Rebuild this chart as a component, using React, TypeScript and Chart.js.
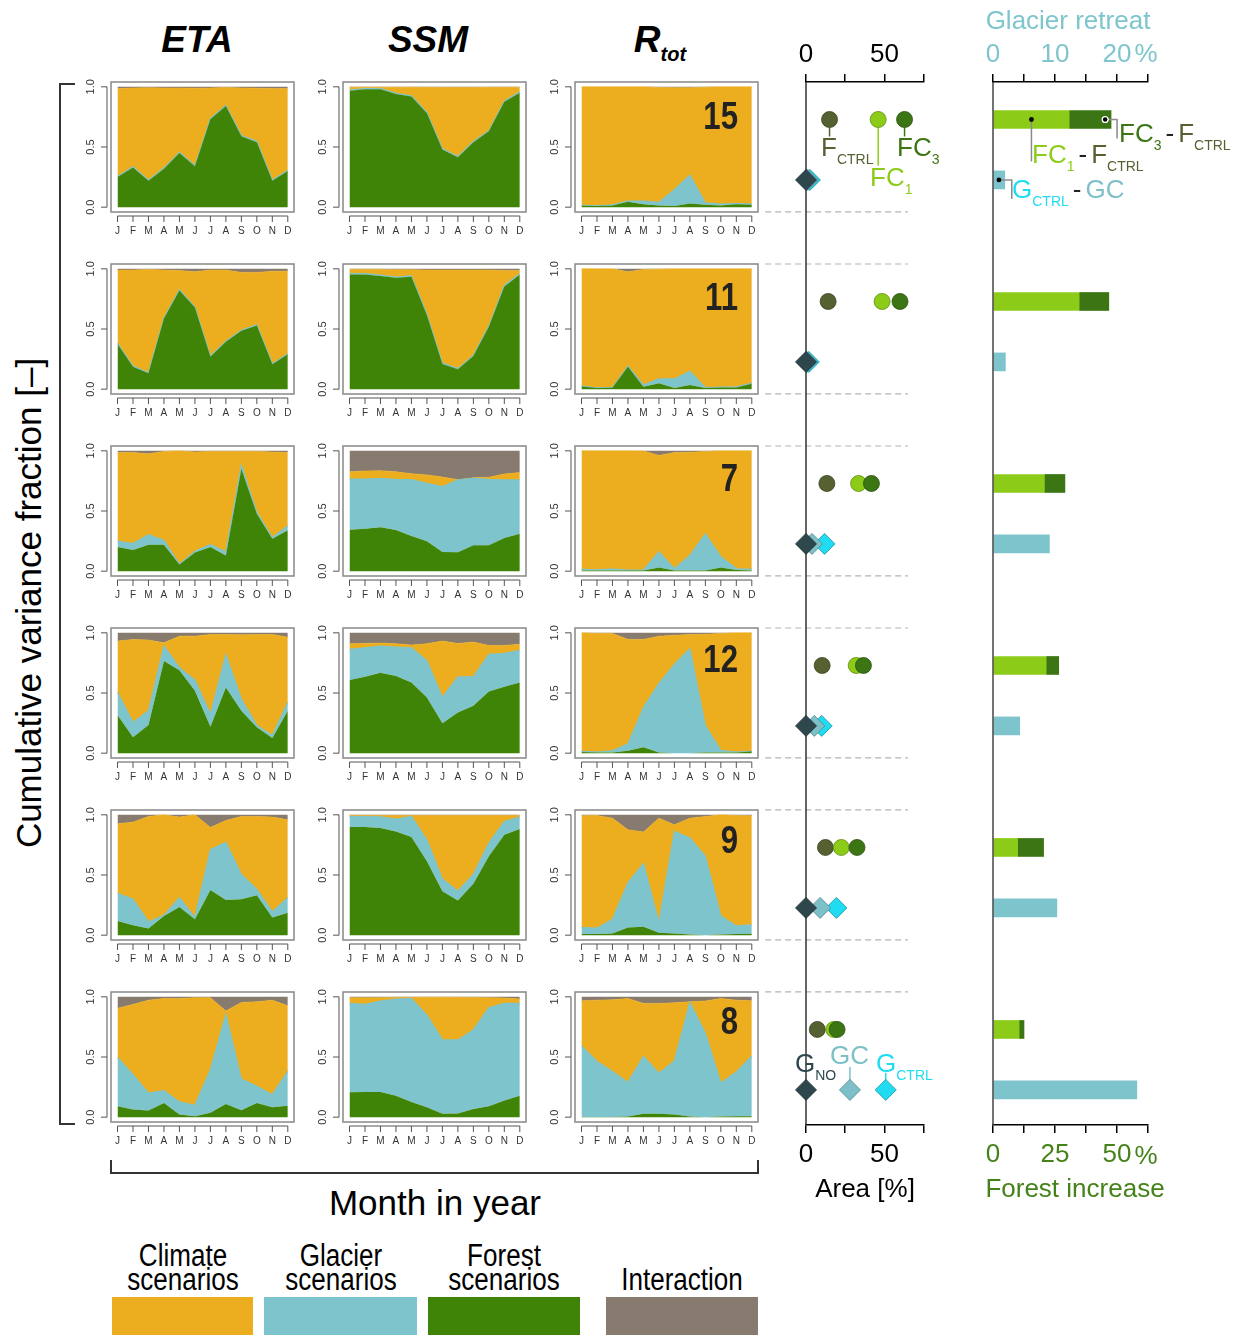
import React, { useEffect, useRef } from 'react';
import { Chart, registerables } from 'chart.js';
Chart.register(...registerables);

const FONT = 'Arial, "Liberation Sans", Helvetica, sans-serif';

const MONTHS = ['J', 'F', 'M', 'A', 'M', 'J', 'J', 'A', 'S', 'O', 'N', 'D'];
const CATCHMENTS = ['15', '11', '7', '12', '9', '8'];
const Y_TICKS = [0, 0.5, 1];
const Y_TICK_LABELS = ['0.0', '0.5', '1.0'];
// upper edge of the interaction layer = total variance
const ALL_SOURCES = [1, 1, 1, 1, 1, 1, 1, 1, 1, 1, 1, 1];

// cumulative upper edges of each layer (forest, + glacier, + climate)
const eta15Forest = [0.25, 0.33, 0.22, 0.32, 0.45, 0.34, 0.73, 0.84, 0.59, 0.54, 0.22, 0.30];
const eta15Glacier = [0.255, 0.335, 0.225, 0.325, 0.455, 0.345, 0.735, 0.845, 0.595, 0.545, 0.225, 0.305];
const eta15Climate = [0.985, 0.99, 0.992, 0.99, 0.99, 0.988, 0.99, 0.995, 0.99, 0.988, 0.985, 0.985];
const ssm15Forest = [0.967, 0.98, 0.98, 0.94, 0.92, 0.78, 0.48, 0.415, 0.54, 0.63, 0.875, 0.95];
const ssm15Glacier = [0.972, 0.985, 0.985, 0.945, 0.925, 0.785, 0.485, 0.42, 0.545, 0.635, 0.88, 0.958];
const ssm15Climate = [0.997, 0.997, 0.997, 0.997, 0.997, 0.996, 0.995, 0.995, 0.995, 0.996, 0.996, 0.997];
const rtot15Forest = [0.012, 0.01, 0.015, 0.045, 0.025, 0.015, 0.01, 0.03, 0.02, 0.015, 0.025, 0.02];
const rtot15Glacier = [0.015, 0.012, 0.02, 0.05, 0.05, 0.04, 0.145, 0.265, 0.035, 0.025, 0.03, 0.025];
const rtot15Climate = [1, 1, 1, 1, 1, 0.995, 0.993, 0.993, 0.997, 1, 1, 1];

const eta11Forest = [0.375, 0.187, 0.132, 0.587, 0.82, 0.678, 0.27, 0.394, 0.485, 0.53, 0.207, 0.29];
const eta11Glacier = [0.38, 0.192, 0.137, 0.592, 0.825, 0.683, 0.275, 0.399, 0.49, 0.535, 0.212, 0.295];
const eta11Climate = [0.99, 0.99, 0.995, 0.99, 0.985, 0.975, 0.99, 0.99, 0.97, 0.97, 0.98, 0.98];
const ssm11Forest = [0.953, 0.953, 0.94, 0.925, 0.935, 0.614, 0.21, 0.165, 0.275, 0.518, 0.854, 0.953];
const ssm11Glacier = [0.96, 0.96, 0.947, 0.932, 0.942, 0.62, 0.216, 0.171, 0.281, 0.524, 0.862, 0.96];
const ssm11Climate = [0.995, 0.995, 0.995, 0.993, 0.992, 0.99, 0.99, 0.99, 0.99, 0.99, 0.985, 0.985];
const rtot11Forest = [0.022, 0.01, 0.012, 0.187, 0.02, 0.05, 0.01, 0.035, 0.01, 0.015, 0.015, 0.045];
const rtot11Glacier = [0.025, 0.012, 0.015, 0.19, 0.035, 0.085, 0.085, 0.15, 0.012, 0.018, 0.02, 0.048];
const rtot11Climate = [1, 1, 1, 0.975, 0.995, 0.997, 1, 1, 1, 1, 1, 1];

const eta7Forest = [0.2, 0.175, 0.22, 0.22, 0.055, 0.155, 0.2, 0.13, 0.85, 0.477, 0.27, 0.34];
const eta7Glacier = [0.248, 0.229, 0.303, 0.256, 0.06, 0.165, 0.22, 0.16, 0.88, 0.49, 0.28, 0.375];
const eta7Climate = [0.985, 0.985, 0.975, 0.995, 1.0, 0.99, 0.995, 0.995, 0.995, 0.995, 0.99, 0.985];
const ssm7Forest = [0.344, 0.353, 0.364, 0.342, 0.292, 0.248, 0.16, 0.157, 0.215, 0.215, 0.275, 0.31];
const ssm7Glacier = [0.766, 0.766, 0.769, 0.763, 0.76, 0.73, 0.702, 0.758, 0.771, 0.763, 0.758, 0.758];
const ssm7Climate = [0.826, 0.832, 0.835, 0.826, 0.81, 0.8, 0.782, 0.76, 0.777, 0.78, 0.807, 0.82];
const rtot7Forest = [0.005, 0.005, 0.005, 0.005, 0.005, 0.03, 0.005, 0.005, 0.005, 0.03, 0.01, 0.005];
const rtot7Glacier = [0.015, 0.012, 0.018, 0.01, 0.01, 0.16, 0.02, 0.13, 0.31, 0.12, 0.02, 0.015];
const rtot7Climate = [1, 1, 1, 1, 0.998, 0.962, 0.985, 0.988, 0.995, 1, 1, 1];

const eta12Forest = [0.317, 0.132, 0.234, 0.766, 0.689, 0.518, 0.22, 0.545, 0.353, 0.215, 0.127, 0.353];
const eta12Glacier = [0.504, 0.256, 0.353, 0.89, 0.71, 0.606, 0.325, 0.82, 0.449, 0.229, 0.146, 0.421];
const eta12Climate = [0.931, 0.945, 0.94, 0.917, 0.972, 0.972, 0.986, 0.986, 0.983, 0.986, 0.986, 0.964];
const ssm12Forest = [0.609, 0.636, 0.669, 0.642, 0.587, 0.463, 0.248, 0.339, 0.394, 0.512, 0.551, 0.587];
const ssm12Glacier = [0.862, 0.876, 0.89, 0.882, 0.876, 0.766, 0.463, 0.634, 0.634, 0.821, 0.829, 0.854];
const ssm12Climate = [0.909, 0.912, 0.915, 0.909, 0.898, 0.909, 0.931, 0.912, 0.923, 0.895, 0.895, 0.904];
const rtot12Forest = [0.01, 0.005, 0.005, 0.02, 0.05, 0.005, 0, 0, 0.005, 0.005, 0.005, 0.015];
const rtot12Glacier = [0.015, 0.01, 0.02, 0.077, 0.38, 0.578, 0.738, 0.868, 0.229, 0.022, 0.01, 0.015];
const rtot12Climate = [1.0, 0.995, 0.995, 0.945, 0.945, 0.972, 0.98, 0.985, 0.988, 0.995, 1.0, 1.0];

const eta9Forest = [0.118, 0.083, 0.055, 0.16, 0.234, 0.132, 0.375, 0.292, 0.298, 0.331, 0.146, 0.187];
const eta9Glacier = [0.347, 0.298, 0.11, 0.165, 0.311, 0.146, 0.711, 0.771, 0.504, 0.38, 0.193, 0.311];
const eta9Climate = [0.926, 0.939, 0.986, 1.0, 0.981, 1.0, 0.895, 0.953, 0.986, 0.986, 0.981, 0.959];
const ssm9Forest = [0.898, 0.898, 0.89, 0.862, 0.815, 0.614, 0.366, 0.289, 0.427, 0.656, 0.835, 0.882];
const ssm9Glacier = [0.986, 0.986, 0.983, 0.964, 0.986, 0.79, 0.468, 0.366, 0.504, 0.766, 0.945, 0.981];
const ssm9Climate = [0.995, 0.995, 0.995, 0.995, 0.995, 0.995, 0.995, 0.995, 0.995, 0.995, 0.995, 0.995];
const rtot9Forest = [0.01, 0.01, 0.015, 0.063, 0.07, 0.02, 0.015, 0.005, 0, 0.005, 0.01, 0.012];
const rtot9Glacier = [0.063, 0.058, 0.132, 0.435, 0.595, 0.105, 0.862, 0.807, 0.656, 0.16, 0.077, 0.085];
const rtot9Climate = [0.992, 0.994, 0.972, 0.876, 0.857, 0.972, 0.917, 0.972, 0.986, 1.0, 0.994, 0.992];

const eta8Forest = [0.091, 0.063, 0.055, 0.118, 0.022, 0.008, 0.036, 0.11, 0.058, 0.118, 0.083, 0.096];
const eta8Glacier = [0.496, 0.353, 0.2, 0.22, 0.127, 0.099, 0.394, 0.854, 0.317, 0.256, 0.187, 0.38];
const eta8Climate = [0.904, 0.937, 0.972, 0.986, 0.986, 0.992, 0.992, 0.882, 0.953, 0.959, 0.972, 0.926];
const ssm8Forest = [0.207, 0.209, 0.209, 0.179, 0.127, 0.083, 0.028, 0.03, 0.069, 0.091, 0.138, 0.179];
const ssm8Glacier = [0.945, 0.937, 0.964, 0.981, 0.986, 0.848, 0.642, 0.642, 0.725, 0.909, 0.945, 0.945];
const ssm8Climate = [0.992, 0.992, 0.992, 0.995, 0.995, 0.997, 0.997, 0.995, 0.995, 0.992, 0.99, 0.981];
const rtot8Forest = [0.002, 0.002, 0.002, 0.005, 0.028, 0.028, 0.022, 0.005, 0, 0.005, 0.008, 0.008];
const rtot8Glacier = [0.592, 0.463, 0.38, 0.289, 0.504, 0.366, 0.468, 0.953, 0.697, 0.284, 0.375, 0.51];
const rtot8Climate = [0.967, 0.972, 0.975, 0.986, 0.945, 0.945, 0.95, 0.959, 0.965, 0.986, 0.972, 0.967];

// Area [%] per catchment (rows 15, 11, 7, 12, 9, 8)
const areaFCtrl = [15, 14.1, 13.3, 10.3, 12.4, 7.2];
const areaFC1 = [46, 48.5, 33.5, 32, 22.5, 17.7];
const areaFC3 = [62.8, 59.9, 41.7, 36.6, 32.5, 19.8];
const areaGNo = [0, 0, 0, 0, 0, 0];
const areaGC = [1.2, 0.6, 3.8, 5.3, 9, 28];
const areaGCtrl = [2.5, 1.8, 11.8, 10, 19.4, 50.8];
// Forest increase [%] and glacier retreat [%]
const forestIncFC1 = [31, 35, 21, 21.7, 10.2, 10.8];
const forestIncFC3 = [47.6, 46.7, 29, 26.5, 20.4, 12.5];
const glacierRetreat = [1.9, 2.0, 9.1, 4.3, 10.3, 23.2];

const COL_CLIMATE = '#ecae1f';
const COL_GLACIER = '#7dc4cc';
const COL_FOREST = '#3f8407';
const COL_INTER = '#877b70';
const C_FCTRL = '#556131';
const C_FC1 = '#8ccc18';
const C_FC3 = '#3b7514';
const C_GNO = '#2e474d';
const C_GC = '#7ec0c8';
const C_GCTRL = '#20dcf2';
const C_FOREST_TXT = '#45821a';

const ROWS = [
  [[eta15Forest, eta15Glacier, eta15Climate], [ssm15Forest, ssm15Glacier, ssm15Climate], [rtot15Forest, rtot15Glacier, rtot15Climate]],
  [[eta11Forest, eta11Glacier, eta11Climate], [ssm11Forest, ssm11Glacier, ssm11Climate], [rtot11Forest, rtot11Glacier, rtot11Climate]],
  [[eta7Forest, eta7Glacier, eta7Climate], [ssm7Forest, ssm7Glacier, ssm7Climate], [rtot7Forest, rtot7Glacier, rtot7Climate]],
  [[eta12Forest, eta12Glacier, eta12Climate], [ssm12Forest, ssm12Glacier, ssm12Climate], [rtot12Forest, rtot12Glacier, rtot12Climate]],
  [[eta9Forest, eta9Glacier, eta9Climate], [ssm9Forest, ssm9Glacier, ssm9Climate], [rtot9Forest, rtot9Glacier, rtot9Climate]],
  [[eta8Forest, eta8Glacier, eta8Climate], [ssm8Forest, ssm8Glacier, ssm8Climate], [rtot8Forest, rtot8Glacier, rtot8Climate]],
];

const FRAME_LEFT = [111, 343, 575];
const FRAME_TOP0 = 82;
const ROW_STEP = 182;

// row scale used by the two right-hand panels
const ROW_MIN = -0.206;
const ROW_MAX = 5.525;
const DIA_OFFSET = 0.332;
const SEP_BELOW = 0.508;

const panelAxes = {
  id: 'panelAxes',
  afterDraw(chart: any) {
    const { ctx, chartArea: a } = chart;
    const x = chart.scales.x;
    const y = chart.scales.y;
    ctx.save();
    ctx.strokeStyle = '#8f8f8f';
    ctx.lineWidth = 1.6;
    ctx.strokeRect(a.left, a.top, a.right - a.left, a.bottom - a.top);
    ctx.strokeStyle = '#555';
    ctx.lineWidth = 1;
    ctx.beginPath();
    const ax = a.left - 4;
    ctx.moveTo(ax, y.getPixelForValue(0));
    ctx.lineTo(ax, y.getPixelForValue(1));
    Y_TICKS.forEach((v) => {
      const py = y.getPixelForValue(v);
      ctx.moveTo(ax, py);
      ctx.lineTo(ax - 6, py);
    });
    const ay = a.bottom + 4;
    ctx.moveTo(x.getPixelForValue(0), ay);
    ctx.lineTo(x.getPixelForValue(MONTHS.length - 1), ay);
    MONTHS.forEach((_, i) => {
      const px = x.getPixelForValue(i);
      ctx.moveTo(px, ay);
      ctx.lineTo(px, ay + 6);
    });
    ctx.stroke();
    ctx.fillStyle = '#333';
    ctx.font = '10px ' + FONT;
    ctx.textAlign = 'center';
    ctx.textBaseline = 'middle';
    MONTHS.forEach((m, i) => ctx.fillText(m, x.getPixelForValue(i), ay + 15));
    ctx.font = '11px ' + FONT;
    Y_TICKS.forEach((v, j) => {
      ctx.save();
      ctx.translate(a.left - 20, y.getPixelForValue(v));
      ctx.rotate(-Math.PI / 2);
      ctx.fillText(Y_TICK_LABELS[j], 0, 0);
      ctx.restore();
    });
    ctx.restore();
  },
};

function panelConfig(forest: number[], glacier: number[], climate: number[]) {
  const pts = (arr: number[]) => arr.map((v, i) => ({ x: i, y: v }));
  const layer = (arr: number[], color: string, fill: any, bw: number, bc: string) => ({
    data: pts(arr),
    fill,
    backgroundColor: color,
    borderColor: bc,
    borderWidth: bw,
    pointRadius: 0,
    tension: 0,
  });
  return {
    type: 'line',
    data: {
      datasets: [
        layer(forest, COL_FOREST, 'origin', 0.01, 'rgba(0,0,0,0)'),
        layer(glacier, COL_GLACIER, '-1', 1.2, COL_GLACIER),
        layer(climate, COL_CLIMATE, '-1', 0.6, COL_CLIMATE),
        layer(ALL_SOURCES, COL_INTER, '-1', 0.01, 'rgba(0,0,0,0)'),
      ],
    },
    options: {
      animation: false,
      responsive: false,
      events: [],
      layout: { padding: { left: 32, top: 4, right: 4, bottom: 28 } },
      scales: {
        x: { type: 'linear', display: false, min: -0.42, max: 11.4 },
        y: { type: 'linear', display: false, min: -0.04, max: 1.04 },
      },
      plugins: { legend: { display: false }, tooltip: { enabled: false } },
    },
    plugins: [panelAxes],
  };
}

const midDecor = {
  id: 'midDecor',
  beforeDatasetsDraw(chart: any) {
    const { ctx, chartArea: a } = chart;
    const x = chart.scales.x;
    const y = chart.scales.y;
    ctx.save();
    ctx.strokeStyle = '#b3b3b3';
    ctx.lineWidth = 1.2;
    ctx.setLineDash([6, 4]);
    ctx.beginPath();
    for (let k = 0; k < CATCHMENTS.length - 1; k++) {
      [k + SEP_BELOW, k + 1 + ROW_MIN].forEach((v) => {
        const py = y.getPixelForValue(v);
        ctx.moveTo(x.getPixelForValue(-26), py);
        ctx.lineTo(x.getPixelForValue(65), py);
      });
    }
    ctx.stroke();
    ctx.setLineDash([]);
    ctx.strokeStyle = '#333';
    ctx.lineWidth = 1.5;
    const x0 = x.getPixelForValue(0);
    ctx.beginPath();
    ctx.moveTo(x0, a.top);
    ctx.lineTo(x0, a.bottom);
    ctx.stroke();
    // label connectors
    const yDot = y.getPixelForValue(0);
    const seg = (xv: number, y1: number, y2: number, c: string) => {
      ctx.strokeStyle = c;
      ctx.lineWidth = 1.5;
      ctx.beginPath();
      ctx.moveTo(x.getPixelForValue(xv), y1);
      ctx.lineTo(x.getPixelForValue(xv), y2);
      ctx.stroke();
    };
    seg(areaFCtrl[0], yDot + 8, yDot + 17, C_FCTRL);
    seg(areaFC3[0], yDot + 8, yDot + 17, C_FC3);
    seg(areaFC1[0], yDot + 8, yDot + 46, C_FC1);
    const last = CATCHMENTS.length - 1;
    const yDia = y.getPixelForValue(last + DIA_OFFSET);
    seg(areaGC[last], yDia - 23, yDia - 9, C_GC);
    seg(areaGCtrl[last], yDia - 17, yDia - 9, C_GCTRL);
    ctx.restore();
  },
};

function midConfig() {
  const rowsOf = (arr: number[], off: number) => arr.map((v, k) => ({ x: v, y: k + off }));
  const dot = (label: string, arr: number[], bg: string, bc: string) => ({
    label, data: rowsOf(arr, 0), pointStyle: 'circle', pointRadius: 8, backgroundColor: bg, borderColor: bc, borderWidth: 0.8, clip: false,
  });
  const dia = (label: string, arr: number[], bg: string, bc: string) => ({
    label, data: rowsOf(arr, DIA_OFFSET), pointStyle: 'rectRot', pointRadius: 10.5, backgroundColor: bg, borderColor: bc, borderWidth: 0.8, clip: false,
  });
  const axis = (position: string, pad: number, h: number) => ({
    type: 'linear', position, min: 0, max: 75,
    ticks: { stepSize: 25, autoSkip: false, maxRotation: 0, color: '#000', font: { family: FONT, size: 26 }, padding: pad,
      callback: (v: number) => (v % 50 === 0 ? String(v) : '') },
    grid: { drawOnChartArea: false, drawTicks: true, tickLength: 8, color: '#000', lineWidth: 1.5 },
    border: { display: true, color: '#000', width: 1.5 },
    afterFit: (s: any) => { s.height = h; },
  });
  return {
    type: 'scatter',
    data: {
      datasets: [
        dia('G_NO', areaGNo, C_GNO, '#1c2d31'),
        dia('GC', areaGC, C_GC, '#4f858c'),
        dia('G_CTRL', areaGCtrl, C_GCTRL, '#1a8fa0'),
        dot('FC3', areaFC3, C_FC3, '#2a520e'),
        dot('FC1', areaFC1, C_FC1, '#5f8c12'),
        dot('F_CTRL', areaFCtrl, C_FCTRL, '#3a4420'),
      ],
    },
    options: {
      animation: false,
      responsive: false,
      events: [],
      layout: { padding: { left: 51, right: 11, top: 0, bottom: 0 } },
      scales: {
        x: axis('top', 4, 52),
        x2: axis('bottom', 6, 45),
        y: { type: 'linear', display: false, offset: false, min: ROW_MIN, max: ROW_MAX, reverse: true },
      },
      plugins: { legend: { display: false }, tooltip: { enabled: false } },
    },
    plugins: [midDecor],
  };
}

const rightDecor = {
  id: 'rightDecor',
  afterDatasetsDraw(chart: any) {
    const { ctx, chartArea: a } = chart;
    const xF = chart.scales.xF;
    const xG = chart.scales.xG;
    const y = chart.scales.y;
    ctx.save();
    ctx.strokeStyle = '#444';
    ctx.lineWidth = 1.5;
    const x0 = xF.getPixelForValue(0);
    ctx.beginPath();
    ctx.moveTo(x0, a.top);
    ctx.lineTo(x0, a.bottom);
    ctx.stroke();
    const yF = y.getPixelForValue(0);
    const yG = y.getPixelForValue(DIA_OFFSET);
    const p1 = xF.getPixelForValue(forestIncFC1[0] / 2);
    const p3 = xF.getPixelForValue(forestIncFC3[0] * 0.95);
    const e3 = xF.getPixelForValue(forestIncFC3[0]);
    const pg = xG.getPixelForValue(glacierRetreat[0] / 2);
    const eg = xG.getPixelForValue(glacierRetreat[0]);
    ctx.strokeStyle = '#8a8a8a';
    ctx.lineWidth = 1.5;
    ctx.beginPath();
    ctx.moveTo(p1, yF); ctx.lineTo(p1, yF + 42);
    ctx.moveTo(p3, yF); ctx.lineTo(e3 + 6, yF); ctx.lineTo(e3 + 6, yF + 19);
    ctx.moveTo(pg, yG); ctx.lineTo(eg + 7, yG); ctx.lineTo(eg + 7, yG + 19);
    ctx.stroke();
    ctx.fillStyle = '#fff';
    ctx.beginPath(); ctx.arc(p3, yF, 3.6, 0, Math.PI * 2); ctx.fill();
    ctx.fillStyle = '#000';
    [[p1, yF, 2.4], [p3, yF, 2.2], [pg, yG, 2.4]].forEach(([px, py, r]) => {
      ctx.beginPath(); ctx.arc(px, py, r, 0, Math.PI * 2); ctx.fill();
    });
    ctx.restore();
  },
};

function rightConfig() {
  const axis = (position: string, max: number, step: number, every: number, color: string, pad: number, h: number) => ({
    type: 'linear', axis: 'x', position, min: 0, max,
    ticks: { stepSize: step, autoSkip: false, maxRotation: 0, color, font: { family: FONT, size: 26 }, padding: pad,
      callback: (v: number) => (Math.abs(v % every) < 1e-9 ? String(v) : '') },
    grid: { drawOnChartArea: false, drawTicks: true, tickLength: 8, color: '#000', lineWidth: 1.5 },
    border: { display: true, color: '#000', width: 1.5 },
    afterFit: (s: any) => { s.height = h; },
  });
  return {
    type: 'bar',
    data: {
      datasets: [
        { label: 'FC3 - FCTRL', xAxisID: 'xF', yAxisID: 'y', backgroundColor: C_FC3,
          data: forestIncFC3.map((v, k) => ({ y: k, x: [forestIncFC1[k], v] })) },
        { label: 'FC1 - FCTRL', xAxisID: 'xF', yAxisID: 'y', backgroundColor: C_FC1,
          data: forestIncFC1.map((v, k) => ({ y: k, x: [0, v] })) },
        { label: 'GCTRL - GC', xAxisID: 'xG', yAxisID: 'y', backgroundColor: COL_GLACIER,
          data: glacierRetreat.map((v, k) => ({ y: k + DIA_OFFSET, x: [0, v] })) },
      ],
    },
    options: {
      indexAxis: 'y',
      animation: false,
      responsive: false,
      events: [],
      layout: { padding: { left: 33, right: 87, top: 0, bottom: 0 } },
      datasets: { bar: { barThickness: 18, grouped: false, borderWidth: 0 } },
      scales: {
        xG: axis('top', 25, 5, 10, '#7ec5cd', 4, 52),
        xF: axis('bottom', 62.5, 12.5, 25, C_FOREST_TXT, 6, 45),
        y: { type: 'linear', display: false, offset: false, grid: { offset: false }, min: ROW_MIN, max: ROW_MAX, reverse: true },
      },
      plugins: { legend: { display: false }, tooltip: { enabled: false } },
    },
    plugins: [rightDecor],
  };
}

function ChartCanvas({ left, top, width, height, make }: any) {
  const ref = useRef<HTMLCanvasElement>(null);
  useEffect(() => {
    const chart = new Chart(ref.current as HTMLCanvasElement, make());
    return () => chart.destroy();
  }, []);
  return (
    <canvas ref={ref} width={width} height={height}
      style={{ position: 'absolute', left, top, width, height }} />
  );
}

const Txt = ({ x, y, children, size = 26, color = '#000', center = false, style = {} }: any) => (
  <div style={{
    position: 'absolute', left: x, top: y,
    transform: center ? 'translate(-50%, -50%)' : 'translateY(-50%)',
    fontFamily: FONT, fontSize: size, color, whiteSpace: 'nowrap', lineHeight: 1, ...style,
  }}>{children}</div>
);

const Sub = ({ children, size = 14, drop = 8 }: any) => (
  <span style={{ fontSize: size, position: 'relative', top: drop }}>{children}</span>
);

const LEGEND = [
  { label: ['Climate', 'scenarios'], color: COL_CLIMATE, left: 112, width: 141 },
  { label: ['Glacier', 'scenarios'], color: COL_GLACIER, left: 264, width: 153 },
  { label: ['Forest', 'scenarios'], color: COL_FOREST, left: 428, width: 152 },
  { label: ['Interaction'], color: COL_INTER, left: 606, width: 152 },
];

export default function App() {
  return (
    <div style={{ position: 'absolute', left: 0, top: 0, width: 1235, height: 1335, background: '#fff', overflow: 'hidden', fontFamily: FONT }}>
      {ROWS.map((row, k) => row.map((layers, c) => (
        <ChartCanvas key={k + '-' + c}
          left={FRAME_LEFT[c] - 32} top={FRAME_TOP0 + ROW_STEP * k - 4} width={219} height={162}
          make={() => panelConfig(layers[0], layers[1], layers[2])} />
      )))}
      <ChartCanvas left={755} top={30} width={180} height={1140} make={midConfig} />
      <ChartCanvas left={960} top={30} width={275} height={1140} make={rightConfig} />

      {/* column headers */}
      <Txt x={197} y={39} size={37} center style={{ fontWeight: 'bold', fontStyle: 'italic' }}>ETA</Txt>
      <Txt x={428} y={39} size={37} center style={{ fontWeight: 'bold', fontStyle: 'italic' }}>SSM</Txt>
      <Txt x={660} y={39} size={37} center style={{ fontWeight: 'bold', fontStyle: 'italic' }}>R<Sub size={20} drop={9}>tot</Sub></Txt>

      {/* catchment numbers */}
      {CATCHMENTS.map((n, k) => (
        <div key={n} style={{ position: 'absolute', left: 738, top: 116 + 181 * k, transform: 'translate(-100%, -50%) scaleX(0.82)',
          transformOrigin: '100% 50%', fontFamily: FONT, fontWeight: 'bold', fontSize: 38, color: '#222', lineHeight: 1 }}>{n}</div>
      ))}

      {/* y title and bracket */}
      <div style={{ position: 'absolute', left: 28, top: 603, transform: 'translate(-50%, -50%) rotate(-90deg)',
        fontFamily: FONT, fontSize: 35, whiteSpace: 'nowrap', lineHeight: 1 }}>Cumulative variance fraction [–]</div>
      <div style={{ position: 'absolute', left: 59, top: 83, width: 14, height: 1038,
        borderLeft: '2.5px solid #333', borderTop: '2.5px solid #333', borderBottom: '2.5px solid #333' }} />
      {/* x title and bracket */}
      <div style={{ position: 'absolute', left: 110, top: 1160, width: 645, height: 12,
        borderLeft: '2.5px solid #333', borderRight: '2.5px solid #333', borderBottom: '2.5px solid #333' }} />
      <Txt x={435} y={1202} size={35} center>Month in year</Txt>

      {/* middle panel texts */}
      <Txt x={865} y={1188} size={26} center>Area [%]</Txt>
      <Txt x={821} y={147} color={C_FCTRL}>F<Sub>CTRL</Sub></Txt>
      <Txt x={897} y={147} color={C_FC3}>FC<Sub>3</Sub></Txt>
      <Txt x={870} y={177} color={C_FC1}>FC<Sub>1</Sub></Txt>
      <Txt x={795} y={1063} color={C_GNO}>G<Sub>NO</Sub></Txt>
      <Txt x={830} y={1055} color={C_GC}>GC</Txt>
      <Txt x={876} y={1063} color={C_GCTRL}>G<Sub>CTRL</Sub></Txt>

      {/* right panel texts */}
      <Txt x={1068} y={20} size={26} center color="#7ec5cd">Glacier retreat</Txt>
      <Txt x={1146} y={53} size={26} center color="#7ec5cd">%</Txt>
      <Txt x={1146} y={1155} size={26} center color={C_FOREST_TXT}>%</Txt>
      <Txt x={1075} y={1188} size={26} center color={C_FOREST_TXT}>Forest increase</Txt>
      <Txt x={1119} y={133}>
        <span style={{ color: C_FC3 }}>FC<Sub>3</Sub></span>
        <span style={{ margin: '0 4px', color: '#222' }}>-</span>
        <span style={{ color: C_FCTRL }}>F<Sub>CTRL</Sub></span>
      </Txt>
      <Txt x={1032} y={154}>
        <span style={{ color: C_FC1 }}>FC<Sub>1</Sub></span>
        <span style={{ margin: '0 4px', color: '#222' }}>-</span>
        <span style={{ color: C_FCTRL }}>F<Sub>CTRL</Sub></span>
      </Txt>
      <Txt x={1012} y={189}>
        <span style={{ color: C_GCTRL }}>G<Sub>CTRL</Sub></span>
        <span style={{ margin: '0 4px', color: '#222' }}>-</span>
        <span style={{ color: C_GC }}>GC</span>
      </Txt>

      {/* legend */}
      {LEGEND.map((l) => (
        <React.Fragment key={l.label[0]}>
          <div style={{ position: 'absolute', left: l.left, top: 1297, width: l.width, height: 38, background: l.color }} />
          <div style={{ position: 'absolute', left: l.left + l.width / 2, top: 1280 - (l.label.length - 1) * 12,
            transform: 'translate(-50%, -50%) scaleX(0.84)', fontFamily: FONT, fontSize: 31, lineHeight: '24px',
            textAlign: 'center', whiteSpace: 'nowrap' }}>
            {l.label.map((s) => <div key={s}>{s}</div>)}
          </div>
        </React.Fragment>
      ))}
    </div>
  );
}
